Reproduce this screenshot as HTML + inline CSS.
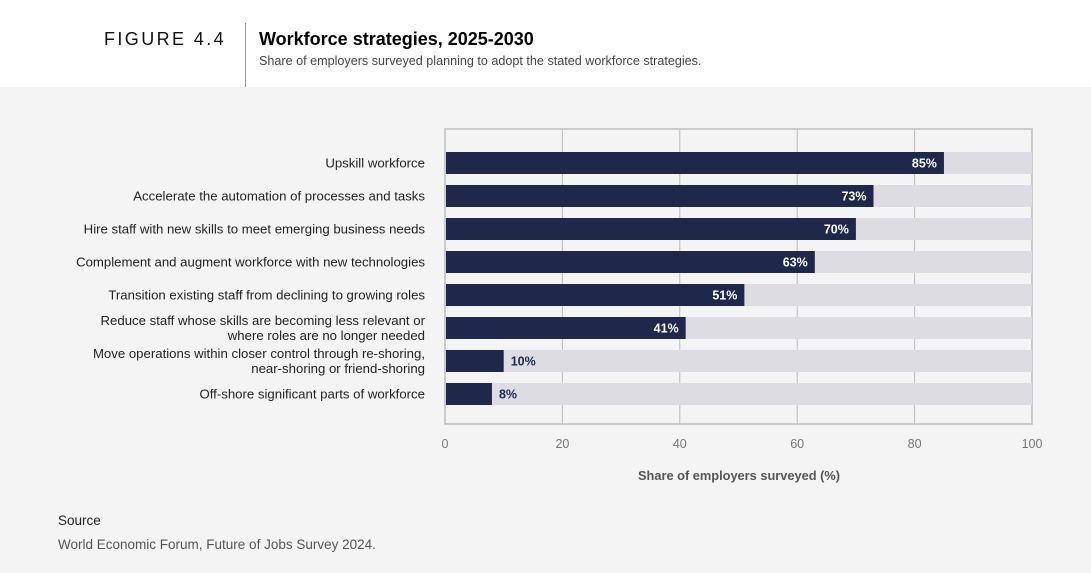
<!DOCTYPE html>
<html><head><meta charset="utf-8"><style>
body{margin:0;width:1091px;height:573px;background:#f4f4f4;font-family:"Liberation Sans",Arial,sans-serif;position:relative;overflow:hidden}
#hdr{position:absolute;left:0;top:0;width:1091px;height:87px;background:#fff}
.t{position:absolute;white-space:nowrap}
</style></head><body>
<div id="hdr">
<div class="t" style="left:104px;top:29px;font-size:18px;letter-spacing:2.4px;color:#111">FIGURE 4.4</div>
<div style="position:absolute;left:245px;top:23px;width:1px;height:64px;background:#999"></div>
<div class="t" style="left:259px;top:29px;font-size:18px;font-weight:bold;color:#000">Workforce strategies, 2025-2030</div>
<div class="t" style="left:259px;top:54px;font-size:12.6px;color:#444">Share of employers surveyed planning to adopt the stated workforce strategies.</div>
</div>
<svg id="chart" width="1091" height="573" style="position:absolute;left:0;top:0"></svg>
<div class="t" style="left:58px;top:513px;font-size:13.5px;color:#222">Source</div>
<div class="t" style="left:58px;top:537px;font-size:13.5px;color:#555">World Economic Forum, Future of Jobs Survey 2024.</div>
<script>
const categories=[["Upskill workforce"],["Accelerate the automation of processes and tasks"],["Hire staff with new skills to meet emerging business needs"],["Complement and augment workforce with new technologies"],["Transition existing staff from declining to growing roles"],["Reduce staff whose skills are becoming less relevant or","where roles are no longer needed"],["Move operations within closer control through re-shoring,","near-shoring or friend-shoring"],["Off-shore significant parts of workforce"]];
const values=[85,73,70,63,51,41,10,8];
const ticks=[0,20,40,60,80,100];
const NS="http://www.w3.org/2000/svg",svg=document.getElementById('chart');
const x0=445,x1=1032,top0=129,bot=424;
const xs=v=>x0+(x1-x0)*v/100;
const yc=i=>163+33*i;
function mk(t,a){const e=document.createElementNS(NS,t);for(const k in a)e.setAttribute(k,a[k]);svg.appendChild(e);return e;}
ticks.forEach((t,i)=>{
 if(t>0&&t<100){const g=mk('line',{x1:xs(t),x2:xs(t),y1:top0,y2:bot,stroke:'#bbb','stroke-width':1});
 
 }
 const l=mk('text',{x:xs(t),y:448,'text-anchor':'middle','font-size':12.5,fill:'#777'});l.textContent=t;
 
 
});
const fr=mk('rect',{x:x0,y:top0,width:x1-x0,height:bot-top0,fill:'none',stroke:'#bbb','stroke-width':1.5});


values.forEach((v,i)=>{
 const y=yc(i)-11;
 const bg=mk('rect',{x:x0+1,y:y,width:x1-x0-1,height:22,fill:'#dcdce2'});
 
 
 const b=mk('rect',{x:x0+1,y:y,width:xs(v)-x0-1,height:22,fill:'#1f284b'});
 
 
 const inside=v>20;
 const lb=mk('text',{x:inside?xs(v)-7:xs(v)+7,y:yc(i)+4.5,'text-anchor':inside?'end':'start','font-size':12.5,'font-weight':'bold',fill:inside?'#fff':'#1f284b'});
 lb.textContent=v+'%';
 
 
 const lines=categories[i];
 lines.forEach((s,j)=>{
  const c=mk('text',{x:425,y:yc(i)+4.5+(j-(lines.length-1)/2)*15,'text-anchor':'end','font-size':13.2,fill:'#222'});
  c.textContent=s;
  
  
 });
});
const at=mk('text',{x:739,y:480,'text-anchor':'middle','font-size':12.8,'font-weight':'bold',fill:'#555'});
at.textContent='Share of employers surveyed (%)';


</script>
</body></html>
